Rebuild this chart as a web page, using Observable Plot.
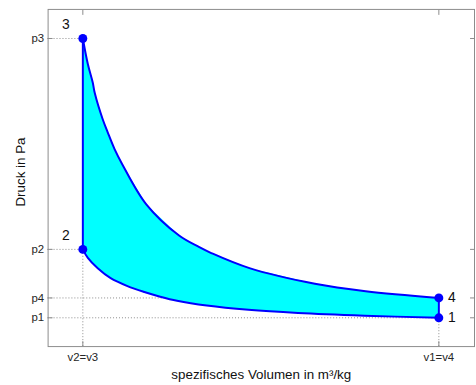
<!DOCTYPE html>
<html><head><meta charset="utf-8">
<script src="https://cdn.jsdelivr.net/npm/d3@7"></script>
<script src="https://cdn.jsdelivr.net/npm/@observablehq/plot@0.6"></script>
<style>
html,body{margin:0;padding:0;background:#fff;overflow:hidden}
#chart{width:476px;height:385px;overflow:hidden}
</style>
</head><body><div id="chart"></div>
<script>
// ---- data (arbitrary units: v2 = 1, p1 = 1) ----
const stateLabels = ["1", "2", "3", "4"];
const stateV = [6.79, 1, 1, 6.79];
const stateP = [1.0, 10.65, 40.4, 3.8];

// expansion 3 -> 4
const expV = [1, 1.081, 1.161, 1.194, 1.323, 1.403, 1.516, 1.645, 2.032, 2.565, 2.887, 3.097, 3.71, 4.774, 5.6, 6.79];
const expP = [40.4, 36.8, 34.2, 32.7, 29.0, 27.2, 24.8, 22.6, 17.0, 12.6, 11.0, 10.1, 8.0, 5.8, 4.75, 3.8];

// compression 1 -> 2 (listed from v2 outwards)
const cmpV = [1, 1.081, 1.242, 1.452, 1.726, 2.0, 2.258, 2.532, 3.016, 3.694, 4.5, 5.58, 6.79];
const cmpP = [10.65, 9.45, 7.99, 6.59, 5.47, 4.64, 3.98, 3.4, 2.72, 2.12, 1.68, 1.3, 1.0];

const xTickValues = [1, 6.79];
const xTickLabels = ["v2=v3", "v1=v4"];
const yTickValues = [1.0, 3.8, 10.65, 40.4];
const yTickLabels = ["p1", "p4", "p2", "p3"];

const xLabel = "spezifisches Volumen in m³/kg";
const yLabel = "Druck in Pa";

const xDomain = [0.435, 7.37];
const yDomain = [-3.06, 44.5];

// ---- derived tables ----
const states = stateLabels.map((s, i) => ({s, v: stateV[i], p: stateP[i]}));
const expansion = expV.map((v, i) => ({v, p: expP[i]}));
const compression = cmpV.map((v, i) => ({v, p: cmpP[i]}));
// closed cycle 2 -> 3 -> 4 -> 1 -> 2
const cycle = [
  {v: stateV[1], p: stateP[1]},
  ...expansion,
  {v: stateV[0], p: stateP[0]},
  ...compression.slice().reverse()
];
const isochores = [
  {v: stateV[1], p1: stateP[1], p2: stateP[2]},
  {v: stateV[0], p1: stateP[0], p2: stateP[3]}
];
const xFmt = new Map(xTickValues.map((d, i) => [d, xTickLabels[i]]));
const yFmt = new Map(yTickValues.map((d, i) => [d, yTickLabels[i]]));

const labelOffsets = {"1": [13, 0], "2": [-17, -14], "3": [-17, -14], "4": [13, 0]};

const font = "'Liberation Sans', Arial, Helvetica, sans-serif";
const grid = {stroke: "#8c8c8c", strokeDasharray: "1,2", strokeWidth: 1};
const blue = "#0000ff";

const chart = Plot.plot({
  width: 480, height: 385,
  marginLeft: 48, marginRight: 2, marginTop: 9, marginBottom: 36,
  style: {fontFamily: font, fontSize: "11.5px", color: "#262626", background: "white"},
  x: {domain: xDomain},
  y: {domain: yDomain},
  marks: [
    Plot.ruleY(states, {y: "p", x1: xDomain[0], x2: "v", ...grid}),
    Plot.ruleX(states.filter(d => d.s === "1" || d.s === "2"), {x: "v", y1: yDomain[0], y2: "p", ...grid}),
    Plot.line(cycle, {x: "v", y: "p", fill: "#00ffff", stroke: "none"}),
    Plot.line(expansion, {x: "v", y: "p", stroke: blue, strokeWidth: 2, curve: "catmull-rom"}),
    Plot.line(compression, {x: "v", y: "p", stroke: blue, strokeWidth: 2, curve: "catmull-rom"}),
    Plot.ruleX(isochores, {x: "v", y1: "p1", y2: "p2", stroke: blue, strokeWidth: 2}),
    Plot.dot(states, {x: "v", y: "p", r: 4.5, fill: blue, stroke: "none"}),
    ...states.map(d => Plot.text([d], {x: "v", y: "p", text: "s", dx: labelOffsets[d.s][0], dy: labelOffsets[d.s][1], fontSize: 14, fill: "#111"})),
    Plot.frame({stroke: "#8c8c8c"}),
    Plot.axisX(xTickValues, {anchor: "bottom", tickSize: -5, tickPadding: 11, tickFormat: d => xFmt.get(d), label: null, stroke: "#8c8c8c"}),
    Plot.axisX(xTickValues, {anchor: "top", tickSize: -5, tickFormat: () => "", label: null, stroke: "#8c8c8c"}),
    Plot.axisY(yTickValues, {anchor: "left", tickSize: -5, tickPadding: 9, tickFormat: d => yFmt.get(d), label: null, stroke: "#8c8c8c"}),
    Plot.axisY(yTickValues, {anchor: "right", tickSize: -5, tickFormat: () => "", label: null, stroke: "#8c8c8c"}),
    Plot.text([xLabel], {frameAnchor: "bottom", dy: 28, lineAnchor: "middle", fontSize: 13.5, fill: "#111"}),
    Plot.text([yLabel], {frameAnchor: "left", dx: -28, dy: -6, rotate: -90, textAnchor: "middle", lineAnchor: "middle", fontSize: 13.5, fill: "#111"})
  ]
});
document.getElementById("chart").append(chart);
</script>
</body></html>
